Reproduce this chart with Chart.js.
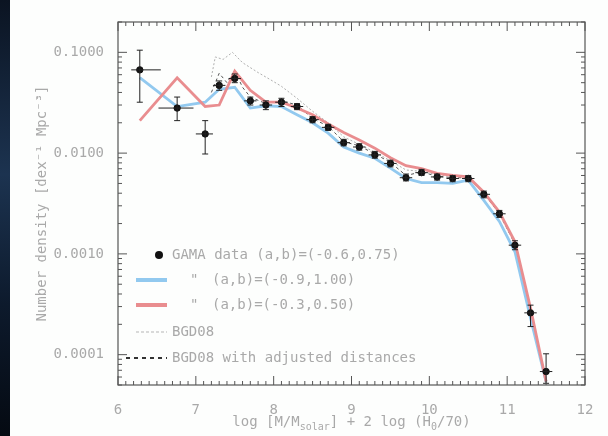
<!DOCTYPE html>
<html>
<head>
<meta charset="utf-8">
<script src="https://cdn.jsdelivr.net/npm/chart.js@4"></script>
<style>
  html, body { margin: 0; padding: 0; background: #fdfefd; overflow: hidden; }
  #mf { position: absolute; left: 0; top: 0; }
</style>
</head>
<body>
<canvas id="mf" width="608" height="436"></canvas>
<script>
// GAMA mass function bins (log M) and number densities
const massBins = [6.28, 6.76, 7.12, 7.3, 7.5, 7.7, 7.9, 8.1, 8.3, 8.5, 8.7, 8.9, 9.1, 9.3, 9.5, 9.7, 9.9, 10.1, 10.3, 10.5, 10.7, 10.9, 11.1, 11.3, 11.5];
const gamaDensity = [0.067, 0.028, 0.0155, 0.047, 0.055, 0.033, 0.030, 0.032, 0.029, 0.0215, 0.018, 0.0127, 0.0115, 0.0096, 0.0079, 0.0057, 0.0064, 0.0058, 0.0056, 0.0056, 0.0039, 0.0025, 0.00122, 0.00026, 0.000068];
const gamaErrLow = [0.032, 0.021, 0.0098, 0.042, 0.050, 0.030, 0.027, 0.029, 0.027, 0.020, 0.0168, 0.0118, 0.0107, 0.0089, 0.0073, 0.0053, 0.0060, 0.0054, 0.0052, 0.0052, 0.0036, 0.0023, 0.00110, 0.00019, 0.000052];
const gamaErrHigh = [0.105, 0.036, 0.021, 0.052, 0.061, 0.036, 0.033, 0.035, 0.031, 0.023, 0.0193, 0.0137, 0.0124, 0.0104, 0.0085, 0.0062, 0.0069, 0.0062, 0.0060, 0.0060, 0.0042, 0.0027, 0.00135, 0.00031, 0.000102];
const massErrMinus = [0.11, 0.24, 0.12, 0.08, 0.08, 0.08, 0.08, 0.08, 0.08, 0.08, 0.08, 0.08, 0.08, 0.08, 0.08, 0.08, 0.08, 0.08, 0.08, 0.08, 0.08, 0.08, 0.08, 0.08, 0.08];
const massErrPlus = [0.27, 0.21, 0.10, 0.08, 0.08, 0.08, 0.08, 0.08, 0.08, 0.08, 0.08, 0.08, 0.08, 0.08, 0.08, 0.08, 0.08, 0.08, 0.08, 0.08, 0.08, 0.08, 0.08, 0.08, 0.08];

// model curves at the same bins
const blueDensity = [0.056, 0.029, 0.032, 0.043, 0.045, 0.028, 0.0295, 0.029, 0.024, 0.020, 0.0158, 0.0115, 0.0100, 0.0089, 0.0071, 0.0056, 0.0051, 0.0051, 0.0050, 0.0054, 0.0034, 0.0021, 0.00105, 0.00023, 0.000054];
const redDensity = [0.021, 0.056, 0.029, 0.030, 0.065, 0.042, 0.032, 0.032, 0.028, 0.024, 0.0195, 0.0160, 0.0135, 0.0112, 0.0090, 0.0075, 0.0070, 0.0063, 0.0060, 0.0058, 0.0041, 0.0026, 0.00132, 0.00029, 0.000054];

// BGD08 curves
const bgdMass = [7.2, 7.25, 7.35, 7.47, 7.6, 7.8, 7.95, 8.1, 8.3, 8.5, 8.7, 8.9, 9.1, 9.3, 9.5, 9.7, 9.9, 10.1, 10.3, 10.5, 10.7, 10.9, 11.1, 11.3];
const bgdDensity = [0.057, 0.090, 0.085, 0.100, 0.079, 0.063, 0.054, 0.046, 0.035, 0.026, 0.020, 0.0145, 0.0122, 0.0102, 0.0084, 0.0068, 0.0066, 0.0061, 0.0059, 0.0058, 0.0041, 0.0026, 0.0013, 0.00028];
const bgdAdjMass = [7.2, 7.3, 7.4, 7.5, 7.6, 7.7, 7.9, 8.1, 8.3, 8.5, 8.7, 8.9, 9.1, 9.3, 9.5, 9.7, 9.9, 10.1, 10.3, 10.5, 10.7, 10.9, 11.1, 11.3];
const bgdAdjDensity = [0.040, 0.062, 0.050, 0.066, 0.045, 0.036, 0.031, 0.033, 0.030, 0.022, 0.0185, 0.013, 0.0118, 0.0098, 0.0081, 0.0060, 0.0065, 0.0059, 0.0057, 0.0057, 0.0040, 0.0025, 0.00125, 0.00027];

const xTicks = [6, 7, 8, 9, 10, 11, 12];
const yTicks = [0.0001, 0.001, 0.01, 0.1];

const textColor = '#a9a9a9';
const monoFont = '"DejaVu Sans Mono", monospace';
const blueColor = '#92c9ef';
const redColor = '#e98d8f';

const pts = (xs, ys) => xs.map((x, i) => ({ x: x, y: ys[i] }));

// white page with the dark photo edge on the left
const background = {
  id: 'background',
  beforeDraw(chart) {
    const { ctx, width, height } = chart;
    ctx.save();
    ctx.fillStyle = '#fdfefd';
    ctx.fillRect(0, 0, width, height);
    const g = ctx.createLinearGradient(0, 0, 0, height);
    g.addColorStop(0, '#0b1422');
    g.addColorStop(0.4, '#1c3350');
    g.addColorStop(0.7, '#0d1a2c');
    g.addColorStop(1, '#050a12');
    ctx.fillStyle = g;
    ctx.fillRect(0, 0, 10, height);
    ctx.restore();
  }
};

// error bars on the GAMA points
const errorBars = {
  id: 'errorBars',
  afterDatasetsDraw(chart) {
    const { ctx, scales: { x, y } } = chart;
    ctx.save();
    ctx.strokeStyle = '#222';
    ctx.lineWidth = 1;
    massBins.forEach((m, i) => {
      const px = x.getPixelForValue(m);
      const py = y.getPixelForValue(gamaDensity[i]);
      const y1 = y.getPixelForValue(gamaErrLow[i]);
      const y2 = y.getPixelForValue(gamaErrHigh[i]);
      const x1 = x.getPixelForValue(m - massErrMinus[i]);
      const x2 = x.getPixelForValue(m + massErrPlus[i]);
      ctx.beginPath();
      ctx.moveTo(px, y1); ctx.lineTo(px, y2);
      ctx.moveTo(x1, py); ctx.lineTo(x2, py);
      ctx.moveTo(px - 3, y1); ctx.lineTo(px + 3, y1);
      ctx.moveTo(px - 3, y2); ctx.lineTo(px + 3, y2);
      ctx.stroke();
    });
    ctx.restore();
  }
};

// box, inward ticks, titles and legend
const frame = {
  id: 'frame',
  afterDraw(chart) {
    const { ctx, chartArea: a, scales: { x, y } } = chart;
    ctx.save();
    ctx.strokeStyle = '#555';
    ctx.lineWidth = 1.2;
    ctx.strokeRect(a.left, a.top, a.right - a.left, a.bottom - a.top);

    ctx.lineWidth = 1;
    ctx.beginPath();
    for (let i = 60; i <= 120; i++) {
      const px = x.getPixelForValue(i / 10);
      const len = i % 10 === 0 ? 9 : 4;
      ctx.moveTo(px, a.bottom); ctx.lineTo(px, a.bottom - len);
      ctx.moveTo(px, a.top); ctx.lineTo(px, a.top + len);
    }
    for (let d = -5; d <= -1; d++) {
      for (let m = 1; m <= 9; m++) {
        const v = m * Math.pow(10, d);
        if (v < y.min || v > y.max) continue;
        const py = y.getPixelForValue(v);
        const len = m === 1 ? 9 : 4;
        ctx.moveTo(a.left, py); ctx.lineTo(a.left + len, py);
        ctx.moveTo(a.right, py); ctx.lineTo(a.right - len, py);
      }
    }
    ctx.stroke();

    // axis titles
    ctx.fillStyle = textColor;
    ctx.font = '14px ' + monoFont;
    ctx.textBaseline = 'middle';
    ctx.save();
    ctx.translate(42, (a.top + a.bottom) / 2);
    ctx.rotate(-Math.PI / 2);
    ctx.textAlign = 'center';
    ctx.fillText('Number density [dex⁻¹ Mpc⁻³]', 0, 0);
    ctx.restore();

    const parts = [['log [M/M', 0], ['solar', 1], ['] + 2 log (H', 0], ['0', 1], ['/70)', 0]];
    const big = '14px ' + monoFont, small = '10px ' + monoFont;
    let total = 0;
    parts.forEach(p => { ctx.font = p[1] ? small : big; total += ctx.measureText(p[0]).width; });
    let cx = (a.left + a.right) / 2 - total / 2;
    ctx.textAlign = 'left';
    ctx.textBaseline = 'alphabetic';
    parts.forEach(p => {
      ctx.font = p[1] ? small : big;
      ctx.fillText(p[0], cx, p[1] ? 430 : 426);
      cx += ctx.measureText(p[0]).width;
    });

    // legend
    ctx.font = big;
    ctx.textBaseline = 'middle';
    const rows = [255, 280, 305, 332, 358];
    ctx.fillStyle = '#111';
    ctx.beginPath(); ctx.arc(159, rows[0], 4, 0, Math.PI * 2); ctx.fill();
    ctx.lineWidth = 4;
    ctx.strokeStyle = blueColor;
    ctx.beginPath(); ctx.moveTo(136, rows[1]); ctx.lineTo(167, rows[1]); ctx.stroke();
    ctx.strokeStyle = redColor;
    ctx.beginPath(); ctx.moveTo(136, rows[2]); ctx.lineTo(167, rows[2]); ctx.stroke();
    ctx.lineWidth = 1;
    ctx.strokeStyle = '#b5b5b5';
    ctx.setLineDash([3, 2]);
    ctx.beginPath(); ctx.moveTo(136, rows[3]); ctx.lineTo(167, rows[3]); ctx.stroke();
    ctx.lineWidth = 2;
    ctx.strokeStyle = '#333';
    ctx.setLineDash([4, 4]);
    ctx.beginPath(); ctx.moveTo(126, rows[4]); ctx.lineTo(167, rows[4]); ctx.stroke();
    ctx.setLineDash([]);

    ctx.fillStyle = textColor;
    ctx.fillText('GAMA data (a,b)=(-0.6,0.75)', 172, rows[0]);
    ctx.fillText('"', 190, rows[1]);
    ctx.fillText('(a,b)=(-0.9,1.00)', 212, rows[1]);
    ctx.fillText('"', 190, rows[2]);
    ctx.fillText('(a,b)=(-0.3,0.50)', 212, rows[2]);
    ctx.fillText('BGD08', 172, rows[3]);
    ctx.fillText('BGD08 with adjusted distances', 172, rows[4]);
    ctx.restore();
  }
};

new Chart(document.getElementById('mf').getContext('2d'), {
  type: 'scatter',
  data: {
    datasets: [
      {
        label: 'GAMA data',
        data: pts(massBins, gamaDensity),
        backgroundColor: '#111',
        borderColor: '#111',
        pointRadius: 3.2,
        order: 0
      },
      {
        type: 'line',
        label: '(a,b)=(-0.9,1.00)',
        data: pts(massBins, blueDensity),
        borderColor: blueColor,
        borderWidth: 2.8,
        pointRadius: 0,
        fill: false,
        tension: 0,
        order: 2
      },
      {
        type: 'line',
        label: '(a,b)=(-0.3,0.50)',
        data: pts(massBins, redDensity),
        borderColor: redColor,
        borderWidth: 2.8,
        pointRadius: 0,
        fill: false,
        tension: 0,
        order: 1
      },
      {
        type: 'line',
        label: 'BGD08',
        data: pts(bgdMass, bgdDensity),
        borderColor: '#b0b0b0',
        borderWidth: 1,
        borderDash: [2, 2],
        pointRadius: 0,
        fill: false,
        order: 4
      },
      {
        type: 'line',
        label: 'BGD08 with adjusted distances',
        data: pts(bgdAdjMass, bgdAdjDensity),
        borderColor: '#555',
        borderWidth: 1,
        borderDash: [3, 3],
        pointRadius: 0,
        fill: false,
        order: 3
      }
    ]
  },
  options: {
    responsive: false,
    animation: false,
    layout: { padding: { top: 22, right: 23, left: 0, bottom: 0 } },
    plugins: {
      legend: { display: false },
      tooltip: { enabled: false }
    },
    scales: {
      x: {
        type: 'linear',
        min: 6,
        max: 12,
        afterFit(s) { s.height = 51; },
        afterBuildTicks(s) { s.ticks = xTicks.map(v => ({ value: v })); },
        grid: { display: false },
        border: { display: false },
        ticks: { color: textColor, font: { family: monoFont, size: 14 }, padding: 9, maxRotation: 0 }
      },
      y: {
        type: 'logarithmic',
        min: 0.00005,
        max: 0.2,
        afterFit(s) { s.width = 118; },
        afterBuildTicks(s) { s.ticks = yTicks.map(v => ({ value: v })); },
        grid: { display: false },
        border: { display: false },
        ticks: {
          color: textColor,
          font: { family: monoFont, size: 14 },
          padding: 6,
          callback: v => Number(v).toFixed(4)
        }
      }
    }
  },
  plugins: [background, errorBars, frame]
});
</script>
</body>
</html>
